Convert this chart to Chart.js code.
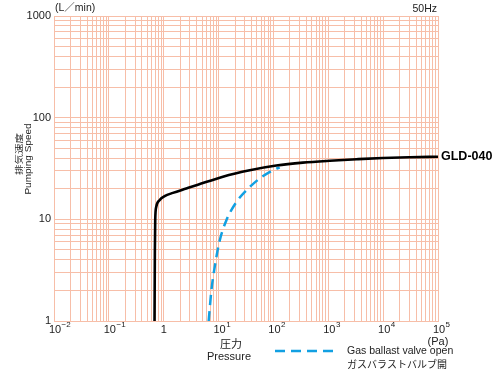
<!DOCTYPE html>
<html>
<head>
<meta charset="utf-8">
<script src="https://cdn.jsdelivr.net/npm/chart.js@4.4.0/dist/chart.umd.min.js"></script>
<style>
body { margin: 0; background: #fff; }
#wrap { width: 494px; height: 370px; }
</style>
</head>
<body>
<div id="wrap"><canvas id="pumpChart" width="494" height="370"></canvas></div>
<script>
// Pressure (Pa) vs pumping speed (L/min)
var mainPressure = [0.68, 0.69, 0.70, 0.73, 0.84, 1.04, 1.47, 2.58, 4.2, 12, 37, 113, 343, 1066, 3300, 9900, 31000, 100000];
var mainSpeed    = [1, 5, 9.8, 13.2, 15.4, 16.9, 18.2, 20.1, 21.9, 26.3, 30.4, 33.8, 36.1, 37.7, 39.0, 40.1, 40.8, 41.3];

// gas ballast valve open
var ballastPressure = [6.6, 7.4, 8.5, 10.5, 13.9, 21.1, 32.2, 56, 98, 130];
var ballastSpeed    = [1, 2.0, 3.39, 6.2, 9.8, 14.8, 19.3, 25.2, 30.4, 32.5];

var xTickExps = [-2, -1, 0, 1, 2, 3, 4, 5];
var yTickLabels = [1, 10, 100, 1000];

var GRID = 'rgb(247,190,168)';
var TEXT = '#222';
var BLUE = 'rgb(18,160,226)';
var FONT = '"Liberation Sans", Arial, "Noto Sans CJK JP", sans-serif';
var JP = '"Noto Sans CJK JP", sans-serif';

function toPoints(xs, ys) {
    var pts = [];
    for (var i = 0; i < xs.length; i++) pts.push({ x: xs[i], y: ys[i] });
    return pts;
}

// grid line at every 1..9 x 10^n
function logTicks(axis) {
    var ticks = [];
    var lo = Math.round(Math.log10(axis.min));
    var hi = Math.round(Math.log10(axis.max));
    for (var e = lo; e < hi; e++) {
        for (var s = 1; s < 10; s++) ticks.push({ value: s * Math.pow(10, e) });
    }
    ticks.push({ value: Math.pow(10, hi) });
    axis.ticks = ticks;
}

// rotated, slightly squeezed axis title
function drawVertical(ctx, text, x, y, font, squeeze) {
    ctx.save();
    ctx.translate(x, y);
    ctx.rotate(-Math.PI / 2);
    ctx.scale(1, squeeze);
    ctx.font = font;
    ctx.textAlign = 'center';
    ctx.textBaseline = 'middle';
    ctx.fillText(text, 0, 0);
    ctx.restore();
}

var textPlugin = {
    id: 'textPlugin',
    afterDraw: function(chart) {
        var ctx = chart.ctx;
        var xs = chart.scales.x, ys = chart.scales.y, area = chart.chartArea;
        ctx.save();
        ctx.fillStyle = TEXT;

        // y tick labels
        ctx.font = '11px ' + FONT;
        ctx.textAlign = 'right';
        ctx.textBaseline = 'middle';
        yTickLabels.forEach(function(v) {
            ctx.fillText(String(v), area.left - 3, ys.getPixelForValue(v));
        });

        // x tick labels, 10 with superscript exponent
        var ty = area.bottom + 9;
        xTickExps.forEach(function(e) {
            var px = xs.getPixelForValue(Math.pow(10, e));
            ctx.textBaseline = 'middle';
            if (e === 0) {
                ctx.textAlign = 'center';
                ctx.font = '11px ' + FONT;
                ctx.fillText('1', px, ty);
                return;
            }
            ctx.font = '11px ' + FONT;
            var w1 = ctx.measureText('10').width;
            ctx.textAlign = 'left';
            var x0 = px - w1 / 2 + 1;
            ctx.fillText('10', x0, ty);
            ctx.font = '8px ' + FONT;
            ctx.fillText(String(e).replace('-', '\u2212'), x0 + w1 + 0.5, ty - 5);
        });

        // unit / frequency labels
        ctx.font = '10.5px ' + FONT;
        ctx.textAlign = 'left';
        ctx.fillText('(L\uFF0Fmin)', area.left + 1, 8);
        ctx.textAlign = 'right';
        ctx.fillText('50Hz', area.right - 1, 9);
        ctx.textAlign = 'center';
        ctx.font = '11px ' + FONT;
        ctx.fillText('(Pa)', area.right, area.bottom + 21);

        // curve name at the end of the main line
        ctx.font = 'bold 12.5px "Liberation Sans", Arial, sans-serif';
        ctx.textAlign = 'left';
        ctx.fillStyle = '#000';
        ctx.fillText('GLD-040', area.right + 3, ys.getPixelForValue(mainSpeed[mainSpeed.length - 1]));
        ctx.fillStyle = TEXT;

        // x title
        ctx.textAlign = 'center';
        ctx.font = '11px ' + JP;
        ctx.fillText('圧力', 231, 344);
        ctx.font = '11px ' + FONT;
        ctx.fillText('Pressure', 229, 357);

        // y title
        drawVertical(ctx, '排気速度', 19, 154, '10.5px ' + JP, 0.75);
        drawVertical(ctx, 'Pumping Speed', 28.5, 159, '10px ' + FONT, 0.85);

        // legend for the dashed line
        ctx.strokeStyle = BLUE;
        ctx.lineWidth = 2.5;
        ctx.setLineDash([10, 6]);
        ctx.beginPath();
        ctx.moveTo(275, 351);
        ctx.lineTo(334, 351);
        ctx.stroke();
        ctx.setLineDash([]);
        ctx.textAlign = 'left';
        ctx.textBaseline = 'middle';
        ctx.font = '10.5px ' + FONT;
        ctx.fillText('Gas ballast valve open', 347, 351);
        ctx.font = '10px ' + JP;
        ctx.fillText('ガスバラストバルブ開', 347, 364);

        ctx.restore();
    }
};

var chart = new Chart(document.getElementById('pumpChart').getContext('2d'), {
    type: 'scatter',
    data: {
        datasets: [
            {
                label: 'GLD-040',
                data: toPoints(mainPressure, mainSpeed),
                showLine: true,
                borderColor: '#000',
                borderWidth: 2.6,
                pointRadius: 0,
                cubicInterpolationMode: 'monotone'
            },
            {
                label: 'Gas ballast valve open',
                data: toPoints(ballastPressure, ballastSpeed),
                showLine: true,
                borderColor: BLUE,
                borderWidth: 2.5,
                borderDash: [10, 6],
                pointRadius: 0,
                cubicInterpolationMode: 'monotone'
            }
        ]
    },
    options: {
        responsive: false,
        animation: false,
        layout: { padding: { left: 54, right: 56, top: 16, bottom: 49 } },
        plugins: {
            legend: { display: false },
            tooltip: { enabled: false }
        },
        scales: {
            x: {
                type: 'logarithmic',
                min: 0.01,
                max: 100000,
                afterBuildTicks: logTicks,
                ticks: { display: false },
                grid: { color: GRID, lineWidth: 1, drawTicks: false },
                border: { color: GRID }
            },
            y: {
                type: 'logarithmic',
                min: 1,
                max: 1000,
                afterBuildTicks: logTicks,
                ticks: { display: false },
                grid: { color: GRID, lineWidth: 1, drawTicks: false },
                border: { color: GRID }
            }
        }
    },
    plugins: [textPlugin]
});
</script>
</body>
</html>
